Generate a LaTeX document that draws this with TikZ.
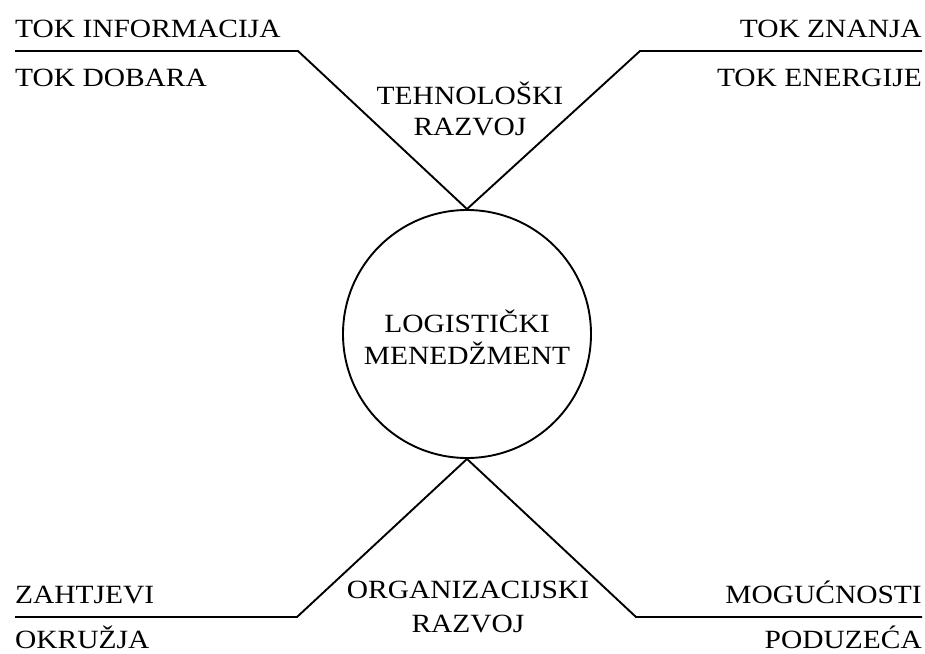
\documentclass[tikz,border=0pt]{standalone}
\usepackage{fontspec}
\setmainfont[FakeStretch=1.12]{Liberation Serif}
\begin{document}
\begin{tikzpicture}[x=1pt,y=-1pt,
  lbl/.style={inner sep=0pt,font=\fontsize{26.3}{30}\selectfont},
  ln/.style={line width=1.9pt,line join=miter},
  hub/.style={circle,draw,line width=1.9pt,minimum size=248pt,inner sep=0pt}]
\useasboundingbox (0,0) rectangle (925,653);
\node[hub] (lm) at (467,334) {};
\node[lbl,anchor=base] (lo) at (467,332) {LOGISTIČKI};
\node[lbl,anchor=base] (me) at (467,364) {MENEDŽMENT};
% corners
\coordinate (tl0) at (15,51);
\coordinate (tl) at (298,51);
\coordinate (tr0) at (922,51);
\coordinate (tr) at (640,51);
\coordinate (bl0) at (15,617);
\coordinate (bl) at (297,617);
\coordinate (br0) at (922,617);
\coordinate (br) at (636,617);
\draw[ln] (tl0) -- (tl) -- (lm.north);
\draw[ln] (tr0) -- (tr) -- (lm.north);
\draw[ln] (bl0) -- (bl) -- (lm.south);
\draw[ln] (br0) -- (br) -- (lm.south);
% labels
\node[lbl,anchor=base west] (ti) at (15,37) {TOK INFORMACIJA};
\node[lbl,anchor=base west] (td) at (15,86) {TOK DOBARA};
\node[lbl,anchor=base east] (tz) at (922,37) {TOK ZNANJA};
\node[lbl,anchor=base east] (te) at (922,86) {TOK ENERGIJE};
\node[lbl,anchor=base] (th) at (470,104) {TEHNOLOŠKI};
\node[lbl,anchor=base] (tr2) at (470,135) {RAZVOJ};
\node[lbl,anchor=base] (og) at (468,598) {ORGANIZACIJSKI};
\node[lbl,anchor=base] (or2) at (468,632) {RAZVOJ};
\node[lbl,anchor=base west] (za) at (15,603) {ZAHTJEVI};
\node[lbl,anchor=base west] (ok) at (15,648) {OKRUŽJA};
\node[lbl,anchor=base east] (mo) at (922,603) {MOGUĆNOSTI};
\node[lbl,anchor=base east] (po) at (922,648) {PODUZEĆA};
\end{tikzpicture}
\end{document}
